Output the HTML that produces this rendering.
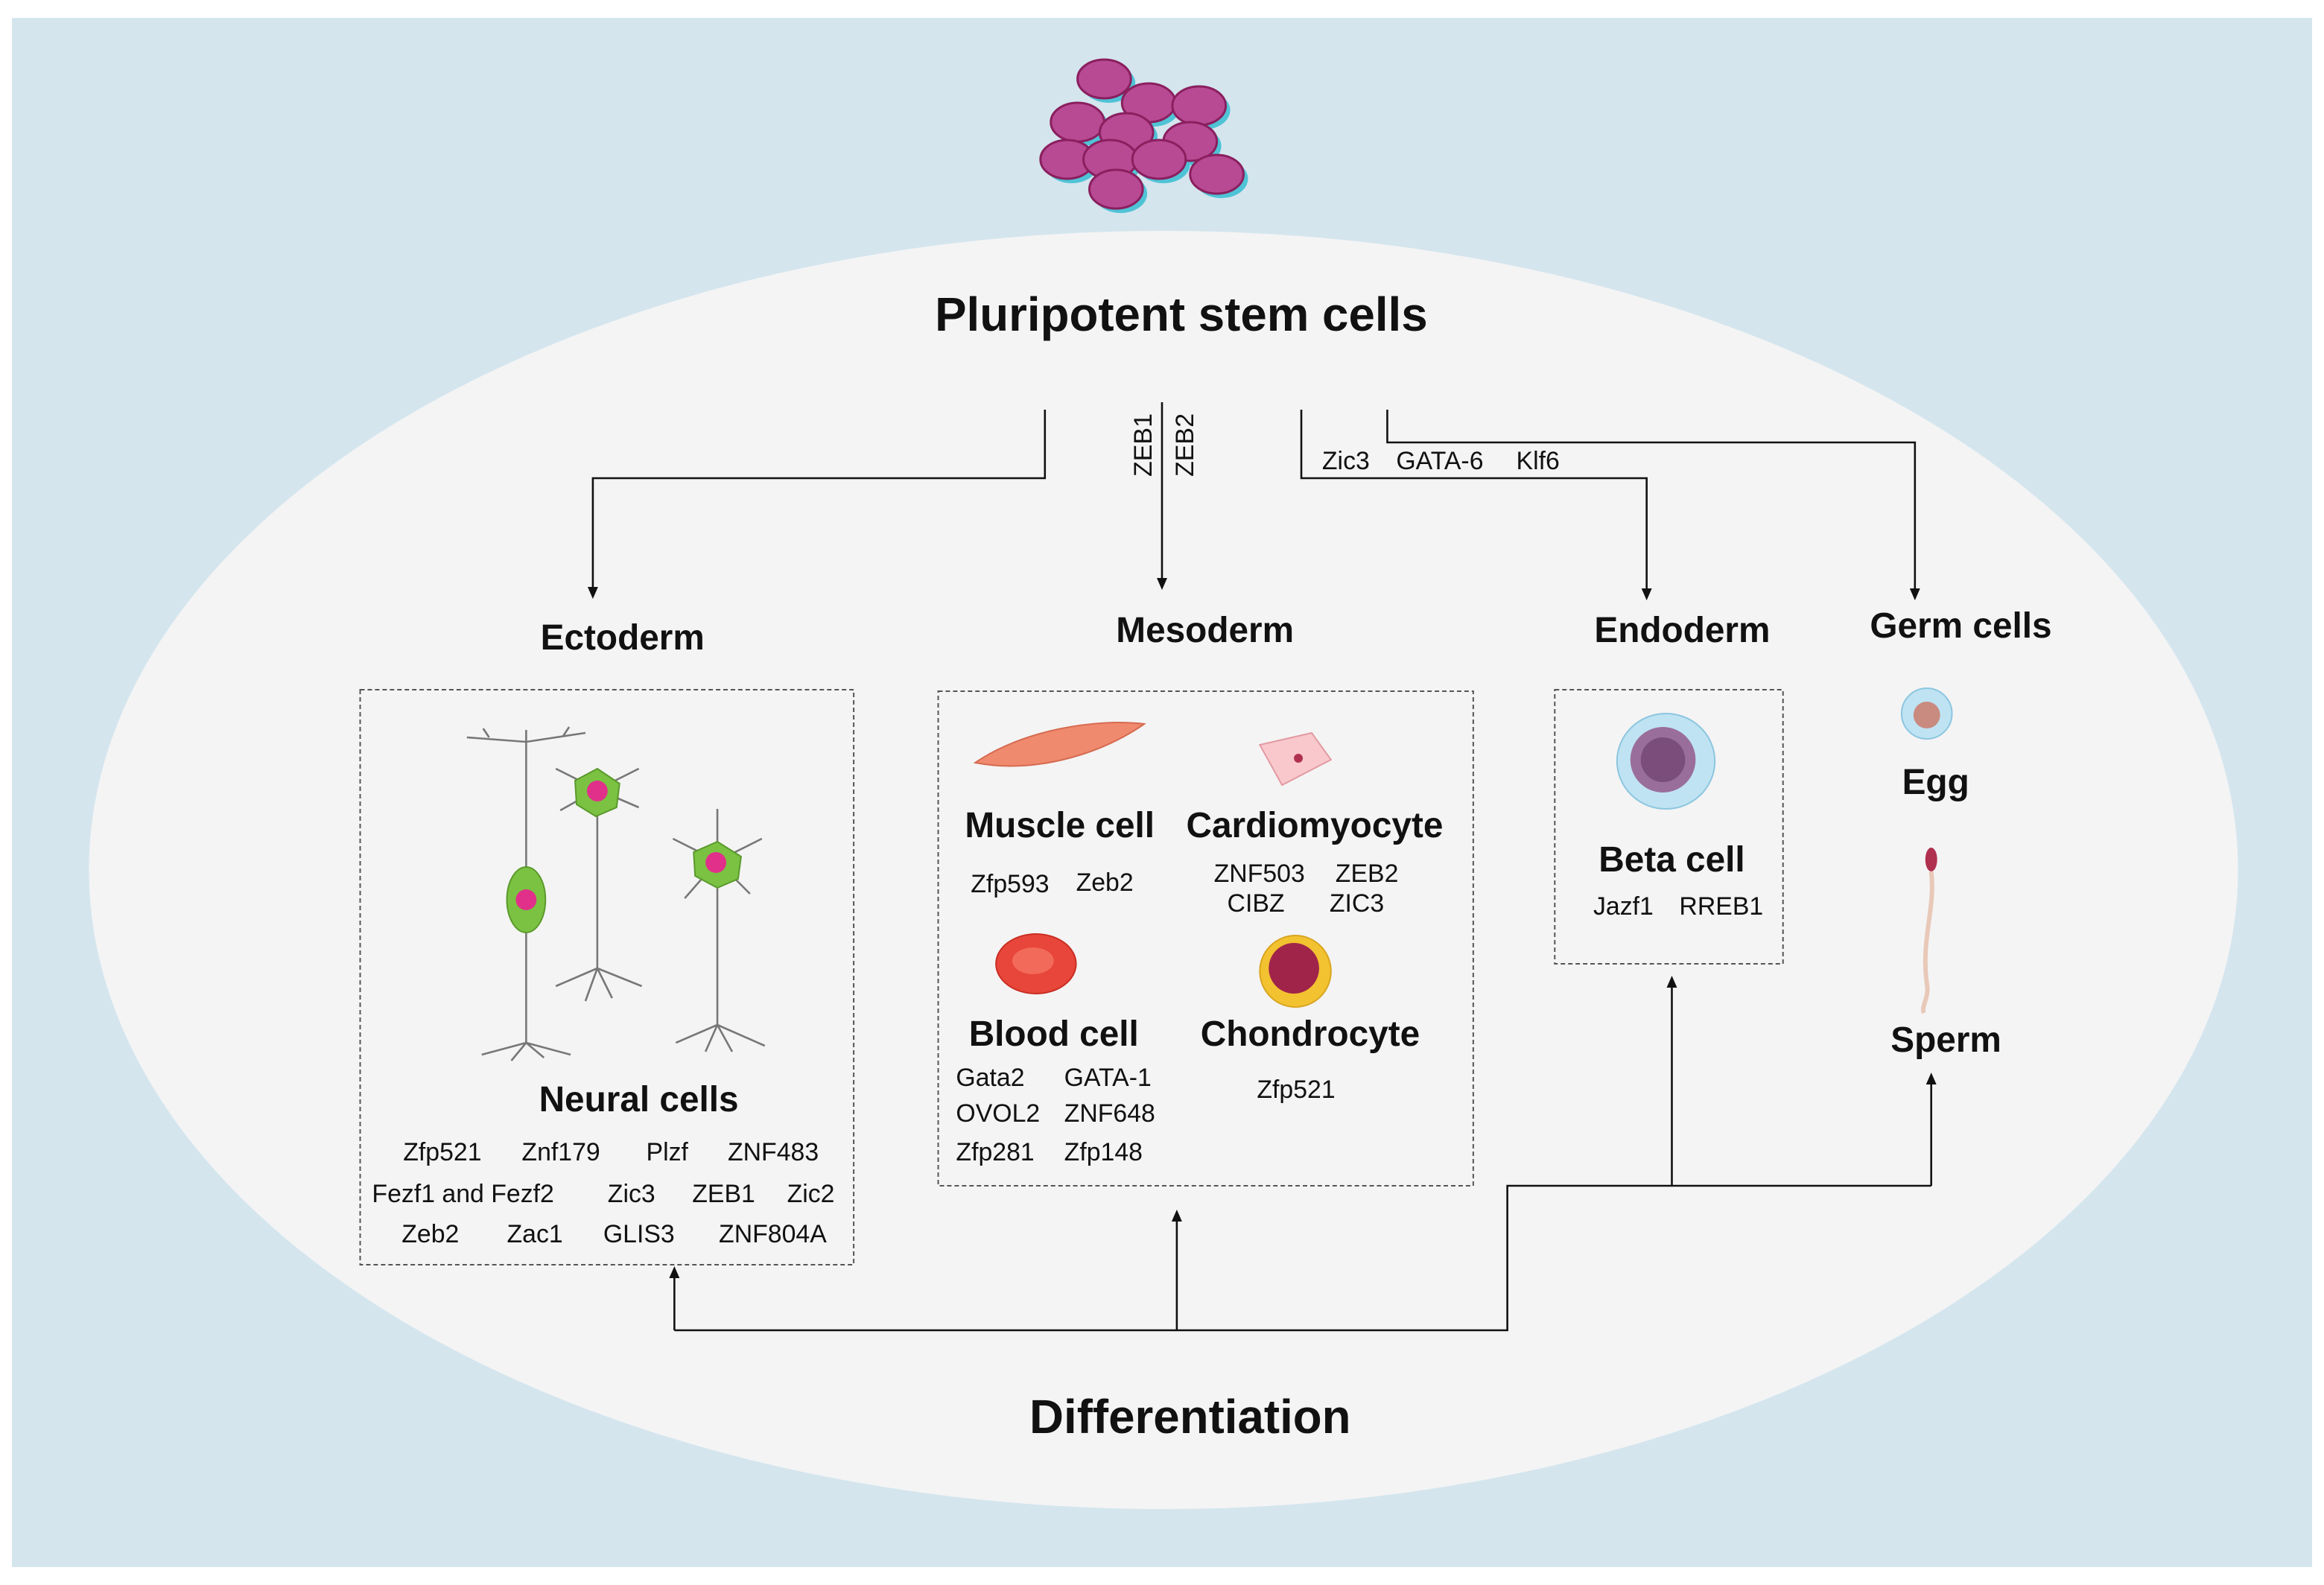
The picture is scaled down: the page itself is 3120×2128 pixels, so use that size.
<!DOCTYPE html>
<html><head><meta charset="utf-8">
<style>
html,body{margin:0;padding:0;background:#fff;}
svg{display:block;}
text{font-family:"Liberation Sans",Arial,sans-serif;fill:#111;}
.b{font-weight:bold;}
</style></head>
<body>
<svg width="3120" height="2128" viewBox="0 0 1568 1064" preserveAspectRatio="none" xmlns="http://www.w3.org/2000/svg">
<rect x="0" y="0" width="1568" height="1064" fill="#fff"/>
<rect x="8" y="12" width="1552" height="1040" fill="#d4e5ee"/>
<ellipse cx="785" cy="584" rx="725" ry="429" fill="#f4f4f4"/>

<!-- stem cell cluster -->
<g stroke="#8a1f5e" stroke-width="1.5">
<g fill="#4fc3d6" stroke="none">
<ellipse cx="748" cy="56" rx="18" ry="13"/><ellipse cx="778" cy="72" rx="18" ry="13"/><ellipse cx="812" cy="74" rx="18" ry="13"/>
<ellipse cx="730" cy="85" rx="18" ry="13"/><ellipse cx="763" cy="92" rx="18" ry="13"/><ellipse cx="806" cy="98" rx="18" ry="13"/>
<ellipse cx="723" cy="110" rx="18" ry="13"/><ellipse cx="752" cy="110" rx="18" ry="13"/><ellipse cx="785" cy="110" rx="18" ry="13"/>
<ellipse cx="824" cy="120" rx="18" ry="13"/><ellipse cx="756" cy="130" rx="18" ry="13"/>
</g>
<g fill="#b84a94">
<ellipse cx="745" cy="53" rx="18" ry="13"/><ellipse cx="775" cy="69" rx="18" ry="13"/><ellipse cx="809" cy="71" rx="18" ry="13"/>
<ellipse cx="727" cy="82" rx="18" ry="13"/><ellipse cx="760" cy="89" rx="18" ry="13"/><ellipse cx="803" cy="95" rx="18" ry="13"/>
<ellipse cx="720" cy="107" rx="18" ry="13"/><ellipse cx="749" cy="107" rx="18" ry="13"/><ellipse cx="782" cy="107" rx="18" ry="13"/>
<ellipse cx="821" cy="117" rx="18" ry="13"/><ellipse cx="753" cy="127" rx="18" ry="13"/>
</g>
</g>

<text x="797" y="222" text-anchor="middle" class="b" font-size="32">Pluripotent stem cells</text>

<g stroke="#111" stroke-width="1.3" fill="none">
<polyline points="705,275 705,321 400,321 400,394"/>
<line x1="784" y1="270" x2="784" y2="388"/>
<polyline points="878,275 878,321 1111,321 1111,395"/>
<polyline points="936,275 936,297 1292,297 1292,395"/>
<polyline points="455,893 455,858"/>
<polyline points="455,893 1017,893 1017,796 1303,796"/>
<line x1="794" y1="893" x2="794" y2="820"/>
<line x1="1128" y1="796" x2="1128" y2="663"/>
<line x1="1303" y1="796" x2="1303" y2="728"/>
</g>
<g fill="#111">
<path d="M396.5,394 L403.5,394 L400,402 Z"/>
<path d="M780.5,388 L787.5,388 L784,396 Z"/>
<path d="M1107.5,395 L1114.5,395 L1111,403 Z"/>
<path d="M1288.5,395 L1295.5,395 L1292,403 Z"/>
<path d="M451.5,858 L458.5,858 L455,850 Z"/>
<path d="M790.5,820 L797.5,820 L794,812 Z"/>
<path d="M1124.5,663 L1131.5,663 L1128,655 Z"/>
<path d="M1299.5,728 L1306.5,728 L1303,720 Z"/>
</g>
<text transform="translate(777,320) rotate(-90)" font-size="17">ZEB1</text>
<text transform="translate(805,320) rotate(-90)" font-size="17">ZEB2</text>
<text x="892" y="315" font-size="17">Zic3</text>
<text x="942" y="315" font-size="17">GATA-6</text>
<text x="1023" y="315" font-size="17">Klf6</text>

<text x="420" y="436" text-anchor="middle" class="b" font-size="24">Ectoderm</text>
<text x="813" y="431" text-anchor="middle" class="b" font-size="24">Mesoderm</text>
<text x="1135" y="431" text-anchor="middle" class="b" font-size="24">Endoderm</text>
<text x="1323" y="428" text-anchor="middle" class="b" font-size="24">Germ cells</text>

<g fill="none" stroke="#555" stroke-width="1" stroke-dasharray="3,2">
<rect x="243" y="463" width="333" height="386"/>
<rect x="633" y="464" width="361" height="332"/>
<rect x="1049" y="463" width="154" height="184"/>
</g>

<!-- neurons -->
<g stroke="#777" stroke-width="1.3" fill="none">
<line x1="355" y1="498" x2="355" y2="700"/><path d="M315,495 L355,498 L395,492 M330,495 l-4,-6 M380,494 l4,-6 M355,498 l0,-8"/>
<path d="M355,700 l-30,8 M355,700 l30,8 M355,700 l-10,12 M355,700 l12,10"/>
<line x1="403" y1="530" x2="403" y2="650"/><path d="M403,650 l-28,12 M403,650 l30,12 M403,650 l-8,22 M403,650 l10,20"/>
<line x1="484" y1="578" x2="484" y2="688"/><path d="M484,688 l-28,12 M484,688 l32,14 M484,688 l-8,18 M484,688 l10,18"/>
<path d="M484,578 l-30,-15 M484,578 l30,-15 M484,578 l0,-35 M484,578 l-22,25 M484,578 l22,22"/>
<path d="M403,530 l-28,-14 M403,530 l28,-14 M403,530 l-25,14 M403,530 l28,12"/>
</g>
<g fill="#7bc142" stroke="#5a9a2c">
<ellipse cx="355" cy="604" rx="13" ry="22"/>
<path d="M403,516 L418,526 L416,542 L402,548 L389,540 L388,524 Z"/>
<path d="M484,565 L500,575 L498,590 L484,596 L469,588 L468,572 Z"/>
</g>
<g fill="#e0308a"><circle cx="355" cy="604" r="7"/><circle cx="403" cy="531" r="7"/><circle cx="483" cy="579" r="7"/></g>

<text x="431" y="746" text-anchor="middle" class="b" font-size="24">Neural cells</text>
<g font-size="17">
<text x="272" y="779">Zfp521</text><text x="352" y="779">Znf179</text><text x="436" y="779">Plzf</text><text x="491" y="779">ZNF483</text>
<text x="251" y="807">Fezf1 and Fezf2</text><text x="410" y="807">Zic3</text><text x="467" y="807">ZEB1</text><text x="531" y="807">Zic2</text>
<text x="271" y="834">Zeb2</text><text x="342" y="834">Zac1</text><text x="407" y="834">GLIS3</text><text x="485" y="834">ZNF804A</text>
</g>

<!-- mesoderm icons -->
<path d="M658,512 C690,490 740,482 772,486 C745,505 700,520 658,512 Z" fill="#ef8a6e" stroke="#d66a50"/>
<path d="M850,500 L885,492 L898,510 L865,527 Z" fill="#f8c8cc" stroke="#e39aa2"/>
<circle cx="876" cy="509" r="3" fill="#b03050"/>
<ellipse cx="699" cy="647" rx="27" ry="20" fill="#e8463a" stroke="#c92e22"/>
<ellipse cx="697" cy="645" rx="14" ry="9" fill="#f26a5a"/>
<circle cx="874" cy="652" r="24" fill="#f2c230" stroke="#d9a520"/>
<circle cx="873" cy="650" r="17" fill="#a0244a"/>

<text x="715" y="562" text-anchor="middle" class="b" font-size="24">Muscle cell</text>
<text x="887" y="562" text-anchor="middle" class="b" font-size="24">Cardiomyocyte</text>
<g font-size="17">
<text x="655" y="599">Zfp593</text><text x="726" y="598">Zeb2</text>
<text x="819" y="592">ZNF503</text><text x="901" y="592">ZEB2</text>
<text x="828" y="612">CIBZ</text><text x="897" y="612">ZIC3</text>
</g>
<text x="711" y="702" text-anchor="middle" class="b" font-size="24">Blood cell</text>
<text x="884" y="702" text-anchor="middle" class="b" font-size="24">Chondrocyte</text>
<g font-size="17">
<text x="645" y="729">Gata2</text><text x="718" y="729">GATA-1</text>
<text x="645" y="753">OVOL2</text><text x="718" y="753">ZNF648</text>
<text x="645" y="779">Zfp281</text><text x="718" y="779">Zfp148</text>
<text x="848" y="737">Zfp521</text>
</g>

<!-- beta cell -->
<ellipse cx="1124" cy="511" rx="33" ry="32" fill="#bfe3f2" stroke="#8cc6e0"/>
<circle cx="1122" cy="510" r="22" fill="#9a6e9a"/>
<circle cx="1122" cy="510" r="15" fill="#7a4d7a"/>
<text x="1128" y="585" text-anchor="middle" class="b" font-size="24">Beta cell</text>
<text x="1075" y="614" font-size="17">Jazf1</text><text x="1133" y="614" font-size="17">RREB1</text>

<!-- germ -->
<circle cx="1300" cy="479" r="17" fill="#bfe3f2" stroke="#8cc6e0"/>
<circle cx="1300" cy="480" r="9" fill="#c98a80"/>
<text x="1306" y="533" text-anchor="middle" class="b" font-size="24">Egg</text>
<ellipse cx="1303" cy="577" rx="4" ry="8" fill="#b03050"/>
<path d="M1303,585 C1306,610 1296,630 1300,660 C1302,670 1296,675 1298,680" stroke="#e8c8b8" stroke-width="3" fill="none"/>
<text x="1313" y="706" text-anchor="middle" class="b" font-size="24">Sperm</text>

<text x="803" y="962" text-anchor="middle" class="b" font-size="32">Differentiation</text>
</svg>
</body></html>
